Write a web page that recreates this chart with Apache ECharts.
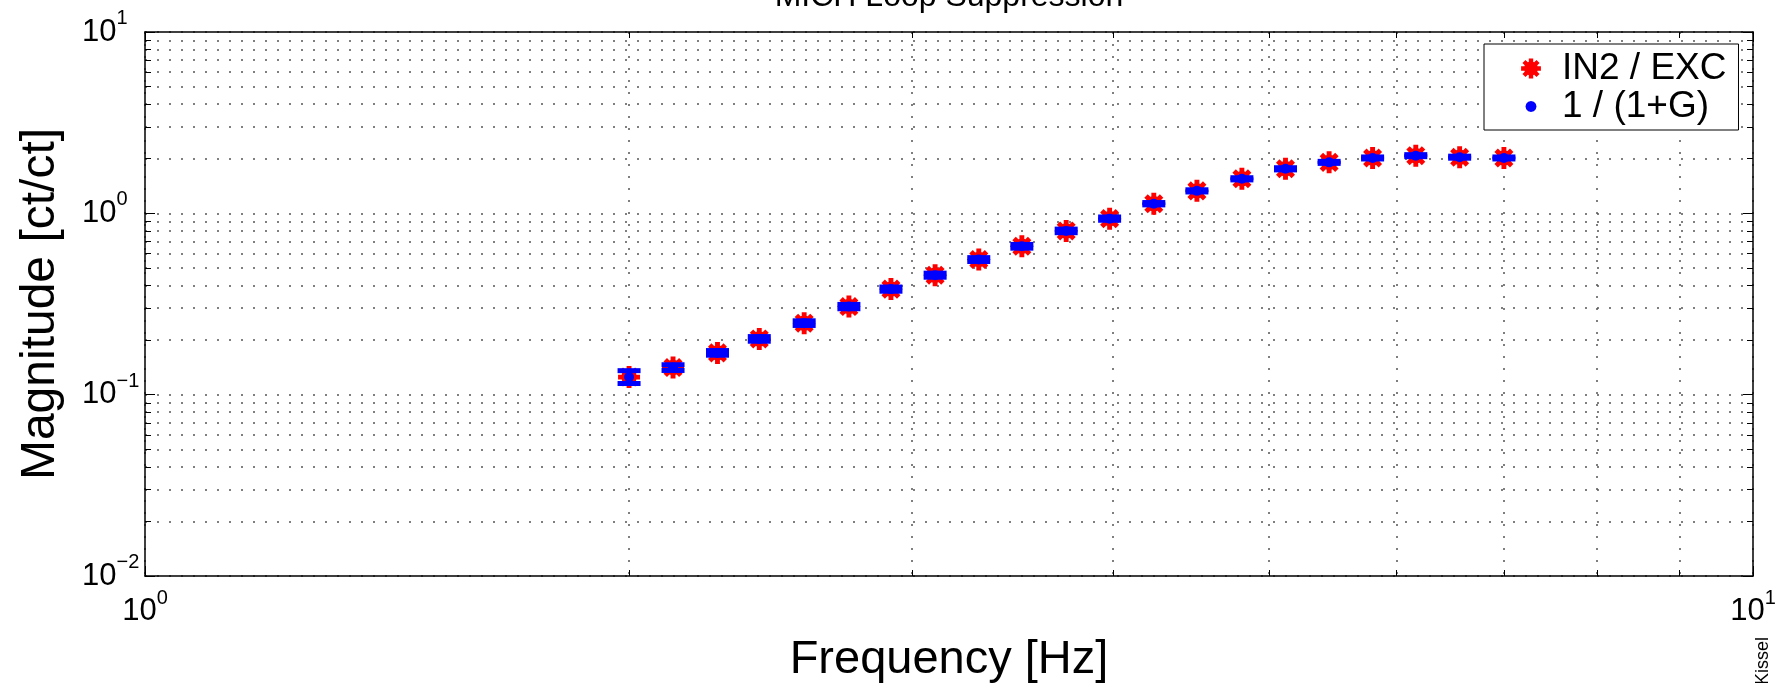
<!DOCTYPE html>
<html>
<head>
<meta charset="utf-8">
<title>MICH Loop Suppression</title>
<script src="https://cdn.jsdelivr.net/npm/echarts@6/dist/echarts.min.js"></script>
<style>
  html, body { margin: 0; padding: 0; background: #fff; }
  #chart { width: 1788px; height: 683px; }
</style>
</head>
<body>
<div id="chart"></div>
<script>
// frequency points of the swept sine [Hz]
const freqHz = [2.00, 2.13, 2.27, 2.41, 2.57, 2.74, 2.91, 3.10, 3.30, 3.51, 3.74,
                3.98, 4.24, 4.51, 4.81, 5.12, 5.45, 5.80, 6.17, 6.57, 7.00];
// measured IN2 / EXC magnitude
const measuredMag = [0.125, 0.141, 0.170, 0.203, 0.248, 0.306, 0.382, 0.456, 0.556, 0.658, 0.800,
                     0.935, 1.13, 1.33, 1.55, 1.76, 1.91, 2.02, 2.08, 2.04, 2.02];
// model 1 / (1+G)
const modelMag = [0.125, 0.141, 0.170, 0.203, 0.248, 0.306, 0.382, 0.456, 0.556, 0.658, 0.800,
                  0.935, 1.13, 1.33, 1.55, 1.76, 1.91, 2.02, 2.08, 2.04, 2.02];
// relative half-size of the error bars on the model points
const modelErr = [0.085, 0.037, 0.030, 0.030, 0.030, 0.028, 0.027, 0.026, 0.025, 0.024, 0.023,
                  0.021, 0.015, 0.014, 0.014, 0.014, 0.013, 0.013, 0.013, 0.013, 0.013];

const FONT = 'Liberation Sans, Arial, Helvetica, sans-serif';

// matlab style '*' marker: + and x spokes plus a filled centre
const starPath = 'path://M95,40L95,60L5,60L5,40Z' +
    'M60,95L40,95L40,5L60,5Z' +
    'M88.89,74.75L74.75,88.89L11.11,25.25L25.25,11.11Z' +
    'M25.25,88.89L11.11,74.75L74.75,11.11L88.89,25.25Z' +
    'M79.6,62.3L62.3,79.6L37.7,79.6L20.4,62.3L20.4,37.7L37.7,20.4L62.3,20.4L79.6,37.7Z';

// legend icons live in a 236x100 box (52x22 px), the mark sits in the middle
const legendStar = 'path://M0,0L0.1,0.1Z M236,100L235.9,99.9Z' +
    'M163,40L163,60L73,60L73,40Z' +
    'M128,95L108,95L108,5L128,5Z' +
    'M156.89,74.75L142.75,88.89L79.11,25.25L93.25,11.11Z' +
    'M93.25,88.89L79.11,74.75L142.75,11.11L156.89,25.25Z' +
    'M147.6,62.3L130.3,79.6L105.7,79.6L88.4,62.3L88.4,37.7L105.7,20.4L130.3,20.4L147.6,37.7Z';
const legendDot = 'path://M0,0L0.1,0.1Z M236,100L235.9,99.9Z' +
    'M143,50L139.65,62.5L130.5,71.65L118,75L105.5,71.65L96.35,62.5L93,50L96.35,37.5L105.5,28.35L118,25L130.5,28.35L139.65,37.5Z';

let measuredData = freqHz.map((f, i) => [f, measuredMag[i]]);
let modelData = freqHz.map((f, i) => [f, modelMag[i]]);
let errData = freqHz.map((f, i) => [f, modelMag[i] / (1 + modelErr[i]), modelMag[i] * (1 + modelErr[i])]);

function powLabel(v) {
    let e = Math.round(Math.log10(v));
    return '{b|10}{s|' + (e < 0 ? '\u2212' + (-e) : e) + '}';
}

const labelRich = {
    b: { fontSize: 31, fontFamily: FONT, color: '#000', lineHeight: 31, verticalAlign: 'middle' },
    s: { fontSize: 20, fontFamily: FONT, color: '#000', lineHeight: 20, verticalAlign: 'middle', padding: [0, 0, 27, 0] }
};

const gridDots = { color: '#555', width: 1.5, type: [2, 10] };
const boxLine = { show: true, onZero: false, lineStyle: { color: '#000', width: 1.5 } };

function logAxis(extra) {
    return Object.assign({
        type: 'log',
        logBase: 10,
        axisLine: boxLine,
        axisTick: { show: true, inside: true, length: 10, lineStyle: { color: '#000', width: 1 } },
        minorTick: { show: true, splitNumber: 9, length: 6, lineStyle: { color: '#000', width: 1 } },
        splitLine: { show: false },
        minorSplitLine: { show: false },
        axisLabel: { show: false }
    }, extra);
}

let option = {
    backgroundColor: '#fff',
    animation: false,
    grid: { left: 145, right: 35, top: 32, bottom: 107, containLabel: false, outerBoundsMode: 'none' },
    graphic: [
        {
            type: 'text', x: 949, y: -3,
            style: { text: 'MICH Loop Suppression', fontSize: 32, fontFamily: FONT, fill: '#000',
                     textAlign: 'center', textVerticalAlign: 'middle' }
        },
        {
            // x axis title
            type: 'text', x: 949, y: 660,
            style: { text: 'Frequency [Hz]', fontSize: 47, fontFamily: FONT, fill: '#000',
                     textAlign: 'center', textVerticalAlign: 'middle' }
        },
        {
            type: 'text', x: 1763, y: 661, rotation: Math.PI / 2,
            style: { text: 'Kissel', fontSize: 18, fontFamily: FONT, fill: '#000',
                     textAlign: 'center', textVerticalAlign: 'middle' }
        }
    ],
    legend: {
        orient: 'vertical',
        left: 1484, top: 44,
        padding: [6, 12, 5, 21],
        itemWidth: 52, itemHeight: 22, itemGap: 1,
        symbolKeepAspect: false,
        backgroundColor: '#fff',
        borderColor: '#000', borderWidth: 1,
        textStyle: { fontSize: 37, fontFamily: FONT, color: '#000', lineHeight: 37 },
        data: [
            { name: 'IN2 / EXC', icon: legendStar, itemStyle: { color: '#ff0000', opacity: 1 } },
            { name: '1 / (1+G)', icon: legendDot, itemStyle: { color: '#0000ff', opacity: 1 } }
        ]
    },
    xAxis: [
        logAxis({
            min: 1, max: 10,
            splitLine: { show: true, lineStyle: gridDots },
            minorSplitLine: { show: true, lineStyle: gridDots },
            axisLabel: { show: true, margin: 20, formatter: powLabel, rich: labelRich,
                         showMinLabel: true, showMaxLabel: true }
        }),
        logAxis({ min: 1, max: 10, position: 'top' })
    ],
    yAxis: [
        logAxis({
            min: 0.01, max: 10,
            name: 'Magnitude [ct/ct]', nameLocation: 'middle', nameGap: 80, nameRotate: 90,
            nameTextStyle: { fontSize: 48, fontFamily: FONT, color: '#000' },
            splitLine: { show: true, lineStyle: gridDots },
            minorSplitLine: { show: true, lineStyle: gridDots },
            axisLabel: { show: true, margin: 63, align: 'left', formatter: powLabel, rich: labelRich,
                         showMinLabel: true, showMaxLabel: true }
        }),
        logAxis({ min: 0.01, max: 10, position: 'right' })
    ],
    series: [
        {
            name: 'IN2 / EXC',
            type: 'scatter',
            data: measuredData,
            symbol: starPath,
            symbolSize: 22,
            itemStyle: { color: '#ff0000', opacity: 1 },
            z: 2
        },
        {
            name: 'model error',
            type: 'custom',
            data: errData,
            encode: { x: 0, y: [1, 2] },
            renderItem: function (params, api) {
                let x = api.value(0);
                let lo = api.coord([x, api.value(1)]);
                let hi = api.coord([x, api.value(2)]);
                let w = 23, t = 5;
                return {
                    type: 'group',
                    children: [
                        { type: 'line', shape: { x1: lo[0], y1: lo[1], x2: hi[0], y2: hi[1] },
                          style: { stroke: '#0000ff', lineWidth: 4 } },
                        { type: 'rect', shape: { x: hi[0] - w / 2, y: hi[1] - t / 2, width: w, height: t },
                          style: { fill: '#0000ff' } },
                        { type: 'rect', shape: { x: lo[0] - w / 2, y: lo[1] - t / 2, width: w, height: t },
                          style: { fill: '#0000ff' } }
                    ]
                };
            },
            z: 3
        },
        {
            name: '1 / (1+G)',
            type: 'scatter',
            data: modelData,
            symbol: 'circle',
            symbolSize: 10,
            itemStyle: { color: '#0000ff', opacity: 1 },
            z: 4
        }
    ]
};

let chart = echarts.init(document.getElementById('chart'));
chart.setOption(option);
</script>
</body>
</html>
